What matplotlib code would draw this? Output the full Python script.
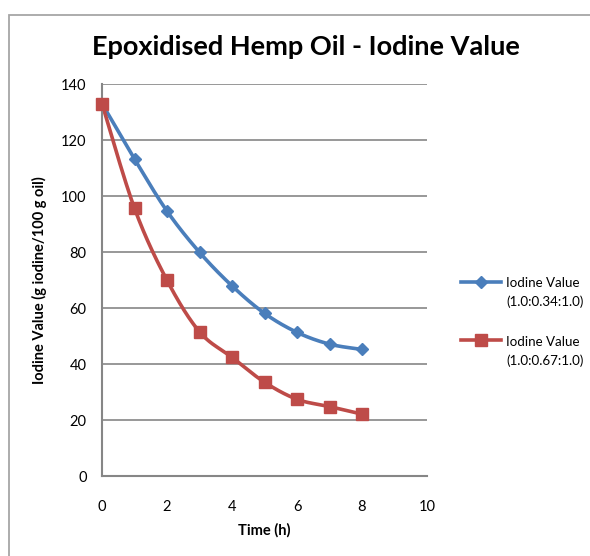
import numpy as np
import matplotlib
matplotlib.use("Agg")
import matplotlib.pyplot as plt
from matplotlib.patches import Rectangle
from matplotlib.lines import Line2D
from matplotlib.legend_handler import HandlerLine2D

# Data
time_h = [0, 1, 2, 3, 4, 5, 6, 7, 8]
iv_034 = [133.0, 113.2, 94.6, 79.9, 67.9, 58.1, 51.3, 47.1, 45.2]
iv_067 = [133.0, 95.6, 69.9, 51.5, 42.4, 33.5, 27.4, 24.8, 22.1]
series_labels = ["Iodine Value\n(1.0:0.34:1.0)", "Iodine Value\n(1.0:0.67:1.0)"]
x_ticks = [0, 2, 4, 6, 8, 10]
y_ticks = [0, 20, 40, 60, 80, 100, 120, 140]

BLUE = "#4a7ebb"
RED = "#be4b48"
GRID = "#868686"
FONT = "Lato"


def smooth(xs, ys, n=30):
    """Catmull-Rom curve through the points (smoothed line style)."""
    xs = np.asarray(xs, float)
    ys = np.asarray(ys, float)
    px = np.concatenate([[xs[0]], xs, [xs[-1]]])
    py = np.concatenate([[ys[0]], ys, [ys[-1]]])
    outx, outy = [], []
    t = np.linspace(0, 1, n, endpoint=False)

    def bez(a, b, c, d):
        return ((1 - t) ** 3 * a + 3 * (1 - t) ** 2 * t * b
                + 3 * (1 - t) * t ** 2 * c + t ** 3 * d)

    for i in range(1, len(px) - 2):
        c1x = px[i] + (px[i + 1] - px[i - 1]) / 6
        c1y = py[i] + (py[i + 1] - py[i - 1]) / 6
        c2x = px[i + 1] - (px[i + 2] - px[i]) / 6
        c2y = py[i + 1] - (py[i + 2] - py[i]) / 6
        outx.append(bez(px[i], c1x, c2x, px[i + 1]))
        outy.append(bez(py[i], c1y, c2y, py[i + 1]))
    outx.append([xs[-1]])
    outy.append([ys[-1]])
    return np.concatenate(outx), np.concatenate(outy)


class FirstLineHandler(HandlerLine2D):
    """Legend key aligned with the first line of a two-line label."""

    def create_artists(self, legend, orig_handle, xdescent, ydescent,
                       width, height, fontsize, trans):
        artists = super().create_artists(legend, orig_handle, xdescent, ydescent,
                                         width, height, fontsize, trans)
        for a in artists:
            a.set_ydata(np.asarray(a.get_ydata(), float) + 0.85 * fontsize)
        return artists


W, H = 590, 556
fig = plt.figure(figsize=(W / 100, H / 100), dpi=100)

# Outer chart border
fig.patches.append(Rectangle((8.5 / W, -0.1), 1.2, (H - 15) / H + 0.1,
                             transform=fig.transFigure, fill=False,
                             edgecolor="#a6a6a6", linewidth=1.3))

ax = fig.add_axes([102 / W, 1 - 476 / H, (427 - 102) / W, (476 - 84) / H])
ax.set_xlim(0, 10)
ax.set_ylim(0, 140)
ax.set_xticks(x_ticks)
ax.set_yticks(y_ticks)
for s in ["top", "right"]:
    ax.spines[s].set_visible(False)
for s in ["left", "bottom"]:
    ax.spines[s].set_color(GRID)
    ax.spines[s].set_linewidth(1.5)
ax.tick_params(axis="y", length=0, labelsize=10.5, pad=11)
ax.tick_params(axis="x", length=0, labelsize=10.5, pad=17)
for lab in ax.get_xticklabels() + ax.get_yticklabels():
    lab.set_fontfamily(FONT)
ax.yaxis.grid(True, color=GRID, linewidth=1.2)
ax.set_axisbelow(True)

for ys, col, mk, ms in [(iv_034, BLUE, "D", 6.5), (iv_067, RED, "s", 8.5)]:
    sx, sy = smooth(time_h, ys)
    ax.plot(sx, sy, color=col, linewidth=2.6, solid_capstyle="round", clip_on=False)
    ax.plot(time_h, ys, linestyle="none", marker=mk, markersize=ms,
            color=col, markeredgecolor=col, clip_on=False, zorder=5)

ax.set_xlabel("Time (h)", fontfamily=FONT, fontweight="bold", fontsize=10.5, labelpad=7)
ax.set_ylabel("Iodine Value (g iodine/100 g oil)", fontfamily=FONT,
              fontweight="bold", fontsize=10.5, labelpad=10)

fig.text(306 / W, 1 - 47 / H, "Epoxidised Hemp Oil - Iodine Value",
         fontfamily=FONT, fontweight="bold", fontsize=19.5,
         ha="center", va="center")

handles = [Line2D([], [], color=BLUE, lw=2.6, marker="D", markersize=6.5),
           Line2D([], [], color=RED, lw=2.6, marker="s", markersize=8.5)]
leg = fig.legend(handles, series_labels, loc="upper left",
                 bbox_to_anchor=(461 / W, 1 - 277 / H), frameon=False,
                 borderpad=0, borderaxespad=0,
                 handler_map={Line2D: FirstLineHandler()},
                 prop={"family": FONT, "size": 9.6}, handlelength=3.0,
                 handletextpad=0.4, labelspacing=2.05)
for txt in leg.get_texts():
    txt.set_linespacing(1.65)

fig.savefig("out.png", dpi=100)
